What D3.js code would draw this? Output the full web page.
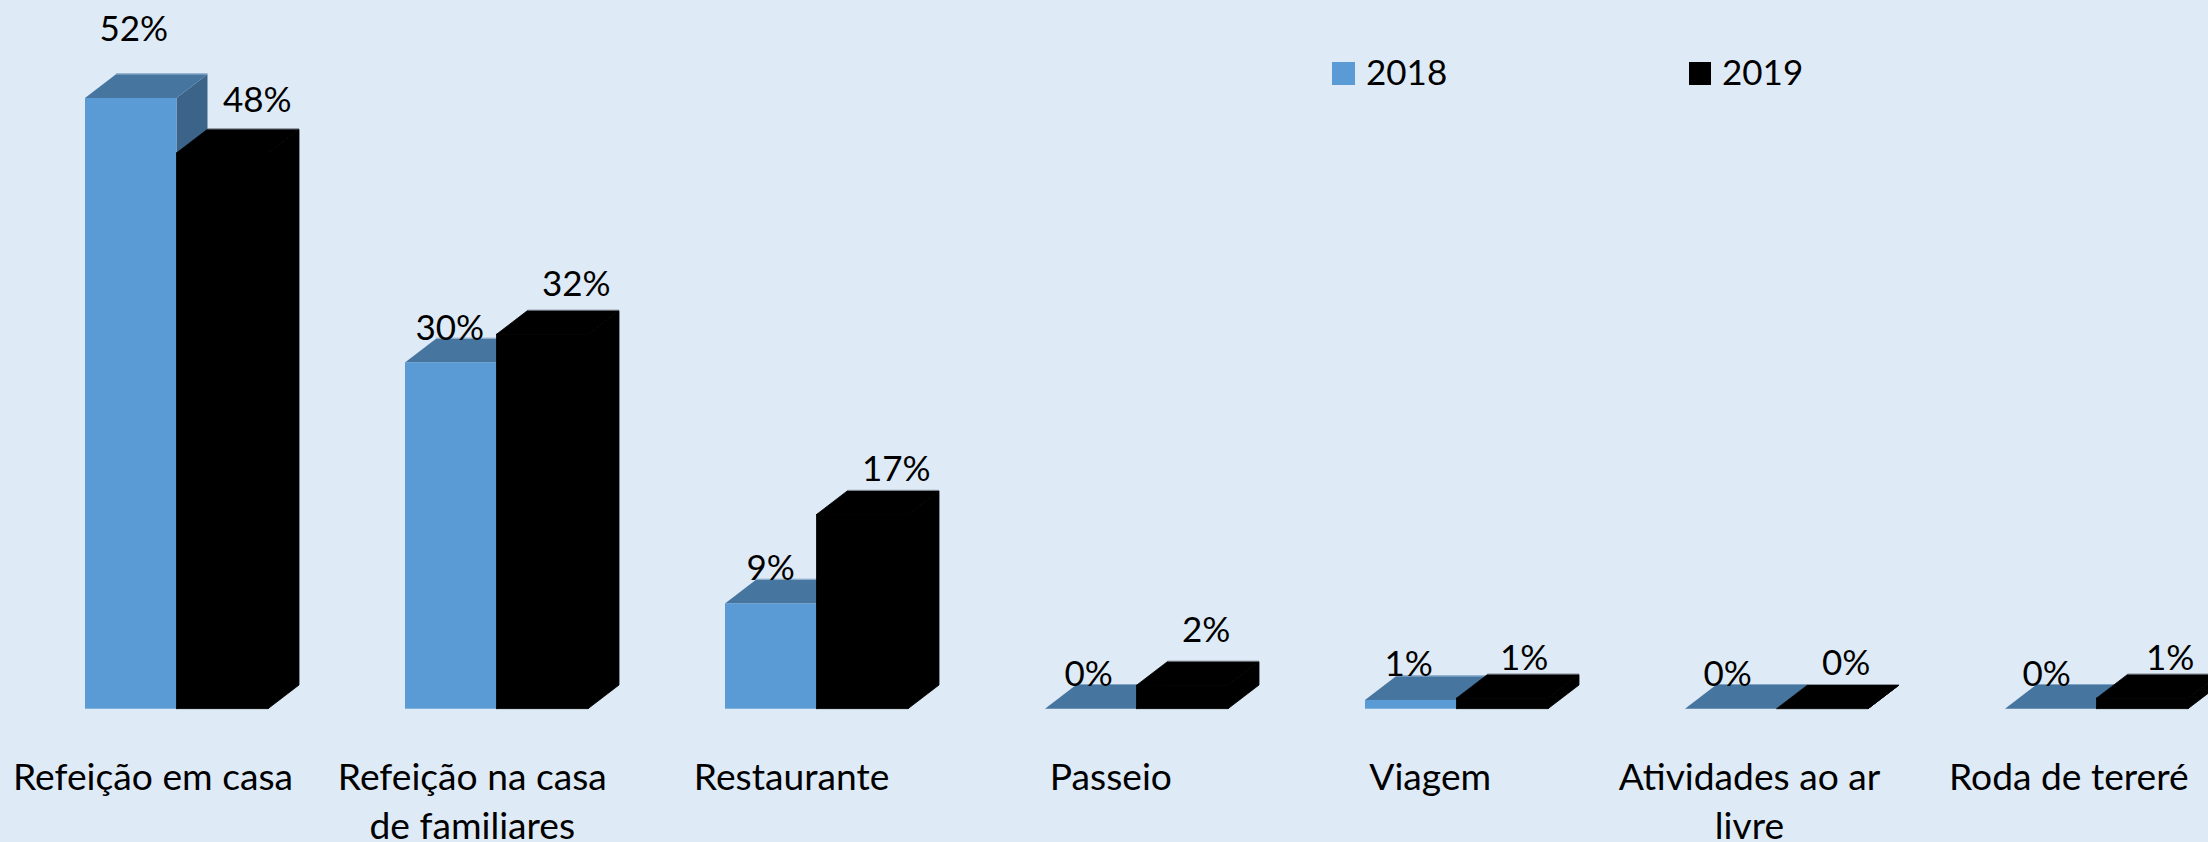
<!DOCTYPE html>
<html><head><meta charset="utf-8">
<script src="https://cdn.jsdelivr.net/npm/d3@7"></script>
<style>html,body{margin:0;padding:0;background:#DEEAF6;overflow:hidden}svg{display:block}text{font-family:Lato,"Noto Sans",sans-serif;fill:#000}</style>
</head><body><div id="c"></div>
<script>
const categories = [["Refeição em casa"],["Refeição na casa","de familiares"],["Restaurante"],["Passeio"],["Viagem"],["Atividades ao ar","livre"],["Roda de tereré"]];
const seriesNames = ["2018","2019"];
const values2018 = [52.2,29.6,9,0,0.75,0,0];
const values2019 = [47.5,32,16.6,2,0.9,0,0.9];

// layout (not data)
const W=2208,H=842,baseY=708.7,dx=31,dy=23.7,barW=91.5,step=320,left=85;
const colors={front:["#5B9BD5","#000"],top:["#4675A0","#000"],side:["#3B6488","#000"],edge:["#7FA3C4","#8A949E"]};
// label nudges [dx, baseline above back-top] per category
const nudge2018=[[3,33],[-1,-1],[0,0],[-2,-1],[-2,0],[-3,-1],[-4,-1]];
const nudge2019=[[35,17.5],[34,14.7],[34,9.5],[24,20],[22,4],[24,10],[28,4]];

const svg=d3.select("#c").append("svg").attr("width",W).attr("height",H).style("background","#DEEAF6");
const x=d3.scaleBand().domain(d3.range(categories.length)).range([left,left+step*categories.length]).paddingInner(0).paddingOuter(0);
const y=d3.scaleLinear().domain([0,60]).range([baseY,baseY-702]);
const fmt=d3.format(".0f");
const poly=p=>"M"+p.map(q=>q.join(",")).join("L")+"Z";

categories.forEach((c,i)=>{
  [values2018,values2019].forEach((vals,s)=>{
    const x0=x(i)+s*barW,x1=x0+barW,t=y(vals[i]);
    const g=svg.append("g").attr("class","bar s"+s);
    const seam=s?{stroke:"#000",w:0.8}:{stroke:"none",w:0};
    g.append("path").attr("d",poly([[x1,t],[x1+dx,t-dy],[x1+dx,baseY-dy],[x1,baseY]])).attr("fill",colors.side[s]).attr("stroke",seam.stroke).attr("stroke-width",seam.w);
    g.append("path").attr("d",poly([[x0,t],[x0+dx,t-dy],[x1+dx,t-dy],[x1,t]])).attr("fill",colors.top[s]).attr("stroke",seam.stroke).attr("stroke-width",seam.w);
    if(vals[i]>0) g.append("rect").attr("x",x0).attr("y",t).attr("width",barW).attr("height",baseY-t).attr("fill",colors.front[s]).attr("stroke",seam.stroke).attr("stroke-width",seam.w);
    g.append("line").attr("x1",x0+dx).attr("x2",x1+dx).attr("y1",t-dy-0.5).attr("y2",t-dy-0.5).attr("stroke",colors.edge[s]).attr("stroke-width",1);
  });
});
categories.forEach((c,i)=>{
  [values2018,values2019].forEach((vals,s)=>{
    const n=(s?nudge2019:nudge2018)[i];
    const cx=x(i)+s*barW+barW/2;
    svg.append("text").attr("x",cx+n[0]).attr("y",y(vals[i])-dy-n[1]).attr("text-anchor","middle").attr("font-size",35).text(fmt(vals[i])+"%");
  });
  c.forEach((l,k)=>{
    svg.append("text").attr("x",x(i)+68-i*0.7).attr("y",789.5+k*49).attr("text-anchor","middle").attr("font-size",37.2).text(l);
  });
});
const legX=[1332,1689];
seriesNames.forEach((n,s)=>{
  svg.append("rect").attr("x",legX[s]).attr("y",62).attr("width",s?22:23).attr("height",23).attr("fill",colors.front[s]);
  svg.append("text").attr("x",legX[s]+(s?33:34)).attr("y",85).attr("font-size",35).text(n);
});
</script></body></html>
